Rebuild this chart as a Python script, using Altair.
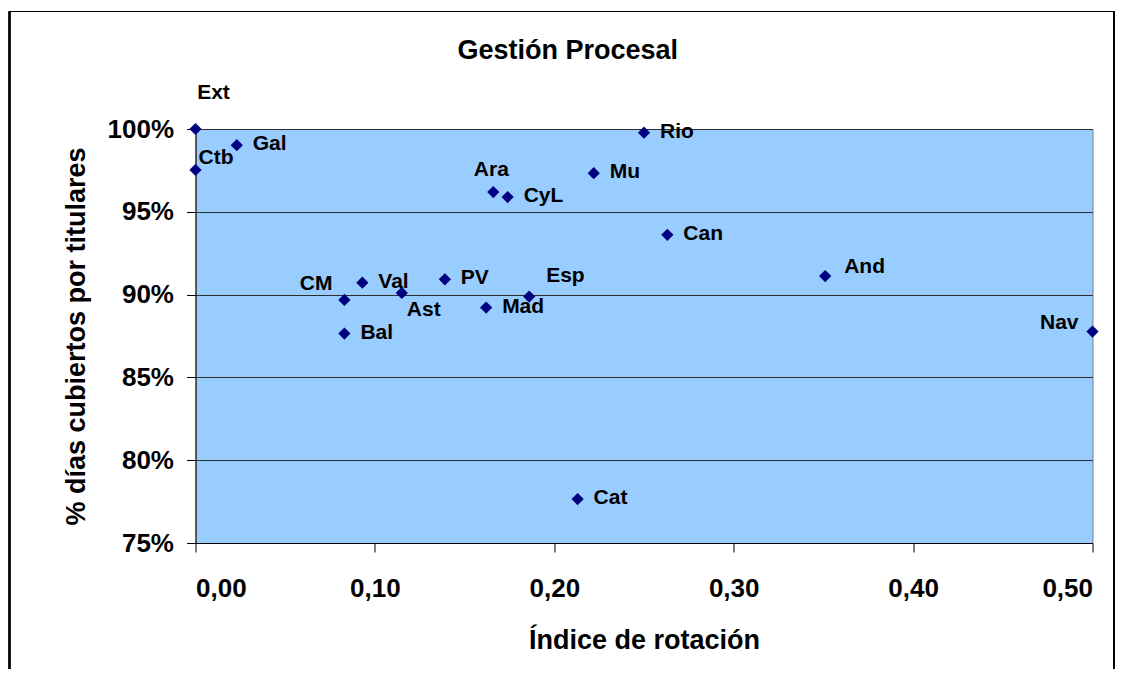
import altair as alt
import pandas as pd

# ---- data ----
labels = ["Ext", "Ctb", "Gal", "Rio", "Ara", "Mu", "CyL", "Can", "And", "Nav",
          "CM", "Val", "Ast", "PV", "Esp", "Mad", "Bal", "Cat"]
rotacion = [0.000, 0.000, 0.023, 0.250, 0.166, 0.222, 0.174, 0.263, 0.351, 0.500,
            0.083, 0.093, 0.115, 0.139, 0.186, 0.162, 0.083, 0.213]
cubiertos = [1.000, 0.9753, 0.9902, 0.9978, 0.9619, 0.9733, 0.9589, 0.9361, 0.9112, 0.8777,
             0.8968, 0.9072, 0.9010, 0.9092, 0.8988, 0.8922, 0.8765, 0.7765]
x_ticks = [0.0, 0.1, 0.2, 0.3, 0.4, 0.5]
y_ticks = [0.75, 0.80, 0.85, 0.90, 0.95, 1.00]

# label placement (style only)
label_place = {"Ext": "ext", "Ctb": "ctb", "Ara": "ara", "And": "and", "Nav": "nav",
               "CM": "cm", "Ast": "ast", "Esp": "esp"}
placements = {
    "right": dict(align="left", dx=16, dy=-1),
    "ext": dict(align="center", dx=18, dy=-36),
    "ctb": dict(align="left", dx=3, dy=-12),
    "ara": dict(align="center", dx=-2, dy=-22),
    "and": dict(align="left", dx=19, dy=-9),
    "nav": dict(align="right", dx=-14, dy=-9),
    "cm": dict(align="right", dx=-12, dy=-16),
    "ast": dict(align="left", dx=5, dy=17),
    "esp": dict(align="left", dx=17, dy=-21),
}

df = pd.DataFrame({"label": labels, "x": rotacion, "y": cubiertos})
df["grp"] = [label_place.get(l, "right") for l in labels]

FONT = "Liberation Sans"
W, H = 897, 414

xenc = alt.X("x:Q", scale=alt.Scale(domain=[0, 0.5], nice=False, zero=False),
             axis=alt.Axis(values=x_ticks, grid=False, tickSize=9, tickColor="black",
                           domainColor="black", labelPadding=23,
                           labelExpr="replace(format(datum.value, '.2f'), '.', ',')",
                           title="Índice de rotación", titlePadding=26))
yenc = alt.Y("y:Q", scale=alt.Scale(domain=[0.75, 1.0], nice=False, zero=False),
             axis=alt.Axis(values=y_ticks, format=".0%", grid=True, gridColor="#2e2e2e",
                           gridWidth=1, tickSize=9, tickColor="black", domainColor="black",
                           labelPadding=13, title="% días cubiertos por titulares",
                           titlePadding=17))

base = alt.Chart(df)
points = base.mark_point(shape="diamond", filled=True, size=150, color="#000080",
                         opacity=1).encode(x=xenc, y=yenc)

layers = [points]
for key, p in placements.items():
    layers.append(
        base.transform_filter(alt.datum.grp == key).mark_text(
            font=FONT, fontSize=21, fontWeight="bold", color="black",
            baseline="middle", **p
        ).encode(x="x:Q", y="y:Q", text="label:N")
    )

frame_l = alt.Chart(df).mark_rule(color="black", strokeWidth=1.2).encode(
    x=alt.value(-186), y=alt.value(-117.5), y2=alt.value(560))
frame_r = alt.Chart(df).mark_rule(color="black", strokeWidth=1.2).encode(
    x=alt.value(918.5), y=alt.value(-117.5), y2=alt.value(560))
frame_t = alt.Chart(df).mark_rule(color="black", strokeWidth=1.2).encode(
    x=alt.value(-186), x2=alt.value(918.5), y=alt.value(-117.5))

chart = alt.layer(*layers, frame_l, frame_r, frame_t).properties(
    width=W, height=H,
    title=alt.TitleParams("Gestión Procesal", font=FONT, fontSize=27, fontWeight="bold",
                          color="black", anchor="middle", frame="bounds",
                          baseline="alphabetic", offset=0, dx=6, dy=75),
    autosize=alt.AutoSizeParams(type="none"),
    padding={"left": 187.5, "top": 121, "right": 22.5, "bottom": 126},
).configure(background="white").configure_view(
    fill="#99CCFF", stroke="#808080", strokeWidth=1
).configure_axis(
    labelFont=FONT, labelFontSize=26, labelFontWeight="bold", labelColor="black",
    titleFont=FONT, titleFontSize=27, titleFontWeight="bold", titleColor="black",
)

chart.save("out.html", embed_options={"renderer": "svg", "actions": False})
